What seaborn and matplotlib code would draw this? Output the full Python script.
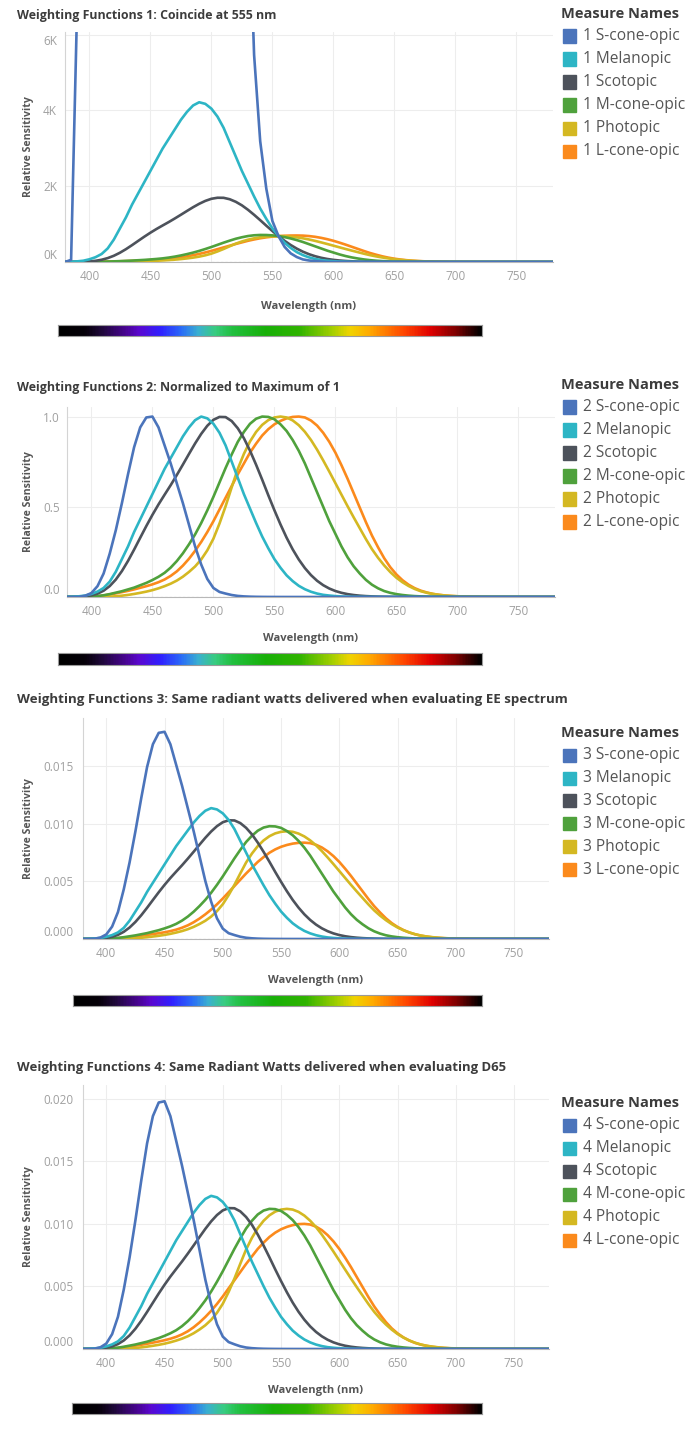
# Weighting functions (alpha-opic, photopic, scotopic) shown four ways
# values, normalised curve shapes + per-panel scale

import pandas as pd
import seaborn as sns
import matplotlib.pyplot as plt
from matplotlib.colors import LinearSegmentedColormap
from matplotlib.patches import Rectangle

# ---- data ----
wavelength = list(range(380, 785, 5))

series_names = ["S-cone-opic", "Melanopic", "Scotopic", "M-cone-opic", "Photopic", "L-cone-opic"]
series_colors = ["#4b74bb", "#2db5c5", "#4d525b", "#4fa13c", "#d4b822", "#fb8a1c"]

# normalised shapes (max = 1), 380..780 nm in 5 nm steps
s_cone = [0.0, 0.00001, 0.0012, 0.007, 0.022, 0.06, 0.13, 0.24, 0.37, 0.52,
          0.68, 0.83, 0.94, 0.995, 1.0, 0.94, 0.84, 0.74, 0.63, 0.52,
          0.40, 0.28, 0.18, 0.10, 0.050, 0.028, 0.019, 0.011, 0.006, 0.0033,
          0.0018, 0.00096, 0.00056, 0.00034, 0.00019, 0.00012, 0.00007, 0.00004, 0.000023, 0.000012,
          0.000007, 0.000004, 0.000002, 0, 0, 0, 0, 0, 0, 0,
          0, 0, 0, 0, 0, 0, 0, 0, 0, 0,
          0, 0, 0, 0, 0, 0, 0, 0, 0, 0,
          0, 0, 0, 0, 0, 0, 0, 0, 0, 0,
          0]
melanopic = [0.001, 0.002, 0.004, 0.008, 0.017, 0.03, 0.05, 0.085, 0.14, 0.21,
             0.28, 0.36, 0.43, 0.50, 0.57, 0.64, 0.71, 0.77, 0.83, 0.89,
             0.94, 0.98, 1.0, 0.99, 0.96, 0.91, 0.84, 0.75, 0.66, 0.57,
             0.49, 0.41, 0.335, 0.27, 0.21, 0.162, 0.12, 0.088, 0.062, 0.043,
             0.029, 0.019, 0.012, 0.008, 0.005, 0.003, 0.002, 0.001, 0.0006, 0.0004,
             0.0002, 0.0001, 0, 0, 0, 0, 0, 0, 0, 0,
             0, 0, 0, 0, 0, 0, 0, 0, 0, 0,
             0, 0, 0, 0, 0, 0, 0, 0, 0, 0,
             0]
scotopic = [0.000589, 0.001108, 0.002209, 0.00453, 0.00929, 0.01852, 0.03484, 0.0604, 0.0966, 0.1436,
            0.1998, 0.2625, 0.3281, 0.3931, 0.455, 0.513, 0.567, 0.62, 0.676, 0.734,
            0.793, 0.851, 0.904, 0.949, 0.982, 0.998, 0.997, 0.975, 0.935, 0.88,
            0.811, 0.733, 0.65, 0.564, 0.481, 0.402, 0.3288, 0.2639, 0.2076, 0.1602,
            0.1212, 0.0899, 0.0655, 0.0469, 0.03315, 0.02312, 0.01593, 0.01088, 0.00737, 0.00497,
            0.003335, 0.002235, 0.001497, 0.001005, 0.000677, 0.000459, 0.000313, 0.000215, 0.000148, 0.000103,
            0.0000715, 0.00005, 0.0000353, 0.000025, 0.0000178, 0, 0, 0, 0, 0,
            0, 0, 0, 0, 0, 0, 0, 0, 0, 0,
            0]
m_cone = [0.0001, 0.0002, 0.0004, 0.001, 0.0024, 0.005, 0.0096, 0.016, 0.024, 0.032,
          0.042, 0.052, 0.065, 0.078, 0.094, 0.112, 0.134, 0.163, 0.199, 0.242,
          0.292, 0.347, 0.41, 0.48, 0.555, 0.635, 0.715, 0.79, 0.86, 0.915,
          0.96, 0.988, 1.0, 0.998, 0.985, 0.957, 0.92, 0.87, 0.81, 0.74,
          0.66, 0.58, 0.50, 0.42, 0.35, 0.28, 0.22, 0.17, 0.13, 0.095,
          0.068, 0.048, 0.033, 0.023, 0.016, 0.011, 0.0075, 0.005, 0.0034, 0.0023,
          0.0015, 0.001, 0.0007, 0.0005, 0.0003, 0.0002, 0.0001, 0, 0, 0,
          0, 0, 0, 0, 0, 0, 0, 0, 0, 0,
          0]
photopic = [0.000039, 0.000064, 0.00012, 0.000217, 0.000396, 0.00064, 0.00121, 0.00218, 0.004, 0.0073,
            0.0116, 0.01684, 0.023, 0.0298, 0.038, 0.048, 0.06, 0.0739, 0.09098, 0.1126,
            0.13902, 0.1693, 0.20802, 0.2586, 0.323, 0.4073, 0.503, 0.6082, 0.71, 0.7932,
            0.862, 0.91485, 0.954, 0.9803, 0.99495, 1.0, 0.995, 0.9786, 0.952, 0.9154,
            0.87, 0.8163, 0.757, 0.6949, 0.631, 0.5668, 0.503, 0.4412, 0.381, 0.321,
            0.265, 0.217, 0.175, 0.1382, 0.107, 0.0816, 0.061, 0.04458, 0.032, 0.0232,
            0.017, 0.01192, 0.00821, 0.005723, 0.004102, 0.002929, 0.002091, 0.001484, 0.001047, 0.00074,
            0.00052, 0.000361, 0.000249, 0.000172, 0.00012, 0.0000848, 0.00006, 0.0000424, 0.00003, 0.0000212,
            0.000015]
l_cone = [0.0001, 0.0002, 0.0004, 0.001, 0.0022, 0.0045, 0.0085, 0.014, 0.02, 0.027,
          0.034, 0.042, 0.051, 0.06, 0.07, 0.082, 0.097, 0.117, 0.142, 0.174,
          0.212, 0.256, 0.305, 0.36, 0.42, 0.485, 0.55, 0.615, 0.68, 0.74,
          0.80, 0.85, 0.895, 0.93, 0.957, 0.976, 0.99, 0.998, 1.0, 0.995,
          0.978, 0.95, 0.91, 0.86, 0.80, 0.73, 0.655, 0.575, 0.495, 0.415,
          0.34, 0.275, 0.215, 0.165, 0.125, 0.093, 0.068, 0.049, 0.035, 0.025,
          0.017, 0.012, 0.0082, 0.0057, 0.0039, 0.0027, 0.0018, 0.0012, 0.0008, 0.0005,
          0.0003, 0.0002, 0.0001, 0, 0, 0, 0, 0, 0, 0,
          0]

# panel 1: every curve equals 683 at 555 nm
coincide_nm = 555
coincide_value = 683
# panels 3 and 4: peak heights
peak_ee = [0.0180, 0.01137, 0.01031, 0.0098, 0.00936, 0.00837]
peak_d65 = [0.0198, 0.01224, 0.01126, 0.0112, 0.0112, 0.0100]

titles = ["Weighting Functions 1: Coincide at 555 nm",
          "Weighting Functions 2: Normalized to Maximum of 1",
          "Weighting Functions 3: Same radiant watts delivered when evaluating EE spectrum",
          "Weighting Functions 4: Same Radiant Watts delivered when evaluating D65"]

# spectrum strip colours (position along strip, colour)
strip_pos = [0.0, 0.06, 0.10, 0.16, 0.19, 0.24, 0.29, 0.33, 0.37, 0.41, 0.49,
             0.57, 0.65, 0.69, 0.73, 0.77, 0.82, 0.88, 0.94, 0.98, 1.0]
strip_col = ["#000000", "#050008", "#1e0838", "#4a0496", "#5a08d0", "#3020ff", "#2a6cf8",
             "#3ab0d0", "#38cc80", "#22c040", "#18b008", "#30b400", "#a8d000", "#f0d400",
             "#ffb000", "#ff8000", "#ff4400", "#e00000", "#800000", "#280000", "#000000"]

# ---- build long table ----
shapes = [s_cone, melanopic, scotopic, m_cone, photopic, l_cone]
i0 = wavelength.index(coincide_nm)
factors = [
    [coincide_value / s[i0] for s in shapes],
    [1.0] * len(shapes),
    [p / max(s) for p, s in zip(peak_ee, shapes)],
    [p / max(s) for p, s in zip(peak_d65, shapes)],
]
frames = []
for k in range(4):
    for name, s, f in zip(series_names, shapes, factors[k]):
        frames.append(pd.DataFrame({"panel": k + 1, "Wavelength": wavelength,
                                    "Measure": f"{k + 1} {name}",
                                    "Value": [v * f for v in s]}))
df = pd.concat(frames, ignore_index=True)

# ---- layout (pixels) ----
W, H = 700, 1433
sns.set_theme(style="white")
plt.rcParams['font.family'] = ['Open Sans', 'DejaVu Sans']
fig = plt.figure(figsize=(W / 100, H / 100), dpi=100)


def box(l, t, r, b):
    return [l / W, 1 - b / H, (r - l) / W, (b - t) / H]


panels = [
    dict(ax=(65, 32, 553, 262), ylim=(0, 6070), yt=[0, 2000, 4000, 6000],
         ylab=["0K", "2K", "4K", "6K"], bar=(58, 325, 482, 336), xl=307, tt=15, ts=8.9, lg=14),
    dict(ax=(67, 407, 555, 597), ylim=(0, 1.053), yt=[0, 0.5, 1.0],
         ylab=["0.0", "0.5", "1.0"], bar=(58, 653, 482, 665), xl=638, tt=388, ts=8.9, lg=385),
    dict(ax=(83, 718, 549, 939), ylim=(0, 0.0192), yt=[0, 0.005, 0.010, 0.015],
         ylab=["0.000", "0.005", "0.010", "0.015"], bar=(73, 995, 482, 1006), xl=980, tt=700,
         ts=9.6, lg=733),
    dict(ax=(83, 1085, 549, 1349), ylim=(0, 0.0211), yt=[0, 0.005, 0.010, 0.015, 0.020],
         ylab=["0.000", "0.005", "0.010", "0.015", "0.020"], bar=(72, 1403, 482, 1414), xl=1390,
         tt=1068, ts=9.45, lg=1103),
]

strip_cmap = LinearSegmentedColormap.from_list("spectrum", list(zip(strip_pos, strip_col)))

for k, p in enumerate(panels):
    n = k + 1
    sub = df[df["panel"] == n]
    labels = [f"{n} {s}" for s in series_names]
    pal = dict(zip(labels, series_colors))

    ax = fig.add_axes(box(*p["ax"]))
    ax.set_xticks(range(400, 800, 50))
    ax.set_yticks(p["yt"])
    ax.grid(True, color="#ededed", lw=0.8)
    ax.axhline(0, color="#b0b0b0", lw=0.8, ls=(0, (2, 2)), zorder=1)

    # S-cone drawn last so it sits on top
    sns.lineplot(data=sub, x="Wavelength", y="Value", hue="Measure", hue_order=labels[::-1],
                 palette=pal, linewidth=1.9, legend=False, ax=ax, zorder=3)

    ax.set_xlim(380, 780)
    ax.set_ylim(*p["ylim"])
    ax.set_xlabel("")
    ax.set_ylabel("")
    for side in ["top", "right"]:
        ax.spines[side].set_visible(False)
    ax.spines["left"].set_color("#d4d4d4")
    ax.spines["bottom"].set_color("#b8b8b8")
    ax.spines["left"].set_linewidth(0.8)
    ax.spines["bottom"].set_linewidth(0.8)

    ax.tick_params(axis="x", length=0, pad=6, labelsize=8.5, labelcolor="#a0a0a0")
    ypad = (p["ax"][0] - 43) * 0.72
    ax.tick_params(axis="y", length=0, pad=ypad, labelsize=8.5, labelcolor="#a0a0a0")
    ax.set_yticklabels(p["ylab"], ha="left")
    ylabels = ax.get_yticklabels()
    ylabels[0].set_va("bottom")
    if n == 1:
        ylabels[-1].set_va("top")

    # texts
    fig.text(17 / W, 1 - p["tt"] / H, titles[k], fontsize=p["ts"], fontweight="bold",
             color="#3c3c3c", va="center", ha="left")
    cx = (p["ax"][0] + p["ax"][2]) / 2
    cy = (p["ax"][1] + p["ax"][3]) / 2
    fig.text(cx / W, 1 - p["xl"] / H, "Wavelength (nm)", fontsize=8, fontweight="bold",
             color="#555555", ha="center", va="center")
    fig.text(28 / W, 1 - cy / H, "Relative Sensitivity", fontsize=7.6, fontweight="bold",
             color="#555555", rotation=90, ha="center", va="center")

    # spectrum strip
    bax = fig.add_axes(box(*p["bar"]))
    bax.imshow([[i / 399 for i in range(400)]], aspect="auto", cmap=strip_cmap,
               extent=(0, 1, 0, 1))
    bax.set_xticks([])
    bax.set_yticks([])
    for sp in bax.spines.values():
        sp.set_color("#9a9a9a")
        sp.set_linewidth(0.8)

    # legend
    fig.text(561 / W, 1 - p["lg"] / H, "Measure Names", fontsize=10.5, fontweight="bold",
             color="#3c3c3c", ha="left", va="center")
    for j, (lab, col) in enumerate(zip(labels, series_colors)):
        yc = p["lg"] + 22 + 23 * j
        fig.patches.append(Rectangle((563 / W, 1 - (yc + 6.5) / H), 13 / W, 13 / H,
                                     transform=fig.transFigure, color=col, figure=fig))
        fig.text(583 / W, 1 - yc / H, lab, fontsize=11.2, color="#555555",
                 ha="left", va="center")

fig.savefig("out.png", dpi=100)
